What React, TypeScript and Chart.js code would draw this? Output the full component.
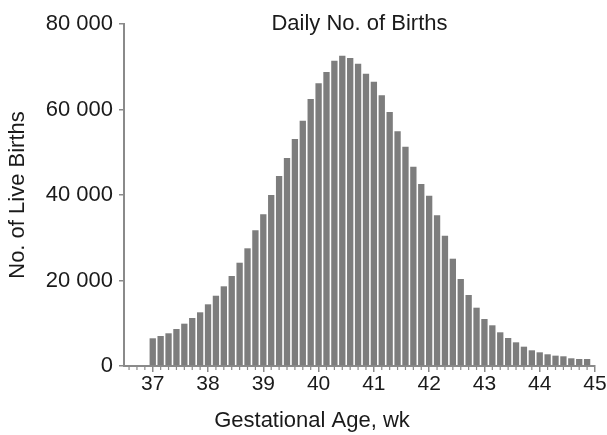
import React, { useEffect, useRef } from "react";
import { Chart, registerables } from "chart.js";

Chart.register(...registerables);

// Daily number of live births, from 37+0 to 44+6 weeks (one value per day)
const firstWeek = 37;
const lastWeek = 45;
const daysPerWeek = 7;
const weekTicks = [37, 38, 39, 40, 41, 42, 43, 44, 45];
const births = [
  6480, 7020, 7650, 8650, 9900, 11230, 12560,
  14430, 16440, 18640, 21050, 24160, 27530, 31740,
  35480, 40000, 44440, 48650, 53100, 57380, 62450,
  66120, 68770, 71410, 72580, 72040, 70710, 68370,
  66500, 63310, 59410, 54900, 51300, 46620, 42570,
  39830, 35250, 30480, 25100, 20350, 16610, 13640,
  10990, 9520, 7880, 6550, 5540, 4520, 3670,
  3200, 2740, 2420, 2270, 1800, 1640, 1640,
];
const yTicks = [0, 20000, 40000, 60000, 80000];

const chartTitle = "Daily No. of Births";
const xTitle = "Gestational Age, wk";
const yTitle = "No. of Live Births";

const FONT = "'Liberation Sans', Arial, Helvetica, sans-serif";
const AXIS = "#8a8a8a";

const textPlugin = {
  id: "texts",
  afterDraw(chart: any) {
    const { ctx, chartArea, scales } = chart;
    const xs = scales.x;
    ctx.save();
    // minor (daily) ticks
    ctx.strokeStyle = AXIS;
    ctx.lineWidth = 1.2;
    const startDay = Math.ceil((xs.min - firstWeek) * daysPerWeek);
    const endDay = (lastWeek - firstWeek) * daysPerWeek;
    for (let d = startDay; d <= endDay; d++) {
      if (d % daysPerWeek === 0) continue;
      const px = xs.getPixelForValue(firstWeek + d / daysPerWeek);
      ctx.beginPath();
      ctx.moveTo(px, chartArea.bottom);
      ctx.lineTo(px, chartArea.bottom + 4);
      ctx.stroke();
    }
    ctx.fillStyle = "#1a1a1a";
    ctx.font = `22px ${FONT}`;
    ctx.textAlign = "center";
    ctx.textBaseline = "middle";
    ctx.fillText(chartTitle, (chartArea.left + chartArea.right) / 2, 24);
    ctx.fillText(xTitle, 312, 421);
    ctx.translate(18, (chartArea.top + chartArea.bottom) / 2);
    ctx.rotate(-Math.PI / 2);
    ctx.fillText(yTitle, 0, 0);
    ctx.restore();
  },
};

export default function App() {
  const ref = useRef<HTMLCanvasElement>(null);
  useEffect(() => {
    if (!ref.current) return;
    const data = births.map((v, i) => ({ x: firstWeek + i / daysPerWeek, y: v }));
    const chart = new Chart(ref.current, {
      type: "bar",
      data: {
        datasets: [
          {
            data,
            backgroundColor: "#7d7d7d",
            borderWidth: 0,
            barPercentage: 0.8,
            categoryPercentage: 1,
          },
        ],
      },
      options: {
        animation: false,
        responsive: false,
        devicePixelRatio: 1,
        layout: { padding: { left: 0, right: 12, top: 24, bottom: 0 } },
        plugins: { legend: { display: false }, tooltip: { enabled: false }, title: { display: false } },
        scales: {
          x: {
            type: "linear",
            offset: false,
            min: 36.48,
            max: lastWeek,
            afterBuildTicks: (s: any) => {
              s.ticks = weekTicks.map((v) => ({ value: v }));
            },
            afterFit: (s: any) => {
              s.height = 69;
            },
            ticks: {
              autoSkip: false,
              maxRotation: 0,
              padding: 0,
              color: "#1a1a1a",
              font: { family: FONT, size: 21 },
              callback: (v: any) => String(v),
            },
            grid: { offset: false, drawOnChartArea: false, drawTicks: true, tickLength: 6, color: AXIS, lineWidth: 1.5 },
            border: { display: true, color: AXIS, width: 2 },
          },
          y: {
            min: 0,
            max: 80000,
            afterBuildTicks: (s: any) => {
              s.ticks = yTicks.map((v) => ({ value: v }));
            },
            afterFit: (s: any) => {
              s.width = 124;
            },
            ticks: {
              padding: 6,
              color: "#1a1a1a",
              font: { family: FONT, size: 22 },
              callback: (v: any) => (v === 0 ? "0" : `${v / 1000} 000`),
            },
            grid: { drawOnChartArea: false, drawTicks: true, tickLength: 5, color: AXIS, lineWidth: 1.5 },
            border: { display: true, color: AXIS, width: 2 },
          },
        },
      },
      plugins: [textPlugin],
    });
    return () => chart.destroy();
  }, []);
  return (
    <div style={{ position: "absolute", left: 0, top: 0, width: 607, height: 435, background: "#fff" }}>
      <canvas ref={ref} width={607} height={435} />
    </div>
  );
}
